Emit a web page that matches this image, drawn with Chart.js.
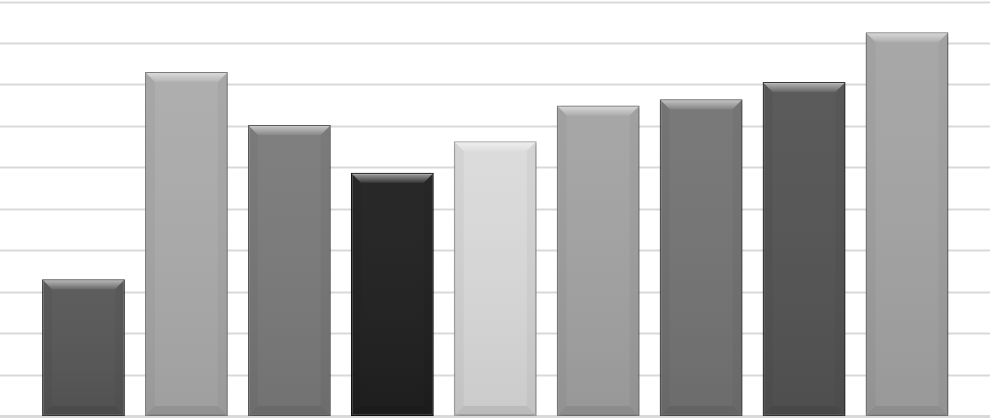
<!DOCTYPE html>
<html>
<head>
<meta charset="utf-8">
<script src="https://cdn.jsdelivr.net/npm/chart.js@4"></script>
<style>
  html, body { margin: 0; padding: 0; background: #fff; }
  #wrap { width: 990px; height: 420px; }
</style>
</head>
<body>
<div id="wrap"><canvas id="chart"></canvas></div>
<script>
const categories = ["1", "2", "3", "4", "5", "6", "7", "8", "9"];
const values = [3.3, 8.3, 7.02, 5.87, 6.63, 7.49, 7.64, 8.06, 9.26];
const barColors = ["#575757", "#ababab", "#7a7a7a", "#202020", "#dadada", "#a3a3a3", "#747474", "#545454", "#a4a4a4"];
const barEdge = ["#404040", "#888888", "#5e5e5e", "#141414", "#aaaaaa", "#828282", "#585858", "#3c3c3c", "#828282"];
const yTicks = [0, 1, 2, 3, 4, 5, 6, 7, 8, 9, 10];

// horizontal grid lines run the full canvas width
const fullGrid = {
  id: "fullGrid",
  beforeDatasetsDraw(chart) {
    const ctx = chart.ctx;
    const y = chart.scales.y;
    ctx.save();
    ctx.strokeStyle = "#d9d9d9";
    yTicks.forEach((t) => {
      const py = Math.round(y.getPixelForValue(t)) + 0.5;
      ctx.lineWidth = t === 0 ? 3 : 2;
      ctx.beginPath();
      ctx.moveTo(0, py);
      ctx.lineTo(chart.width, py);
      ctx.stroke();
    });
    ctx.restore();
  },
};

const bevel = {
  id: "bevel",
  beforeDatasetsDraw(chart) {
    const ctx = chart.ctx;
    ctx.save();
    ctx.shadowColor = "rgba(0,0,0,0.3)";
    ctx.shadowBlur = 5;
    ctx.shadowOffsetX = 1;
    ctx.shadowOffsetY = 1;
  },
  afterDatasetsDraw(chart) {
    const ctx = chart.ctx;
    ctx.restore();
    const meta = chart.getDatasetMeta(0);
    ctx.save();
    meta.data.forEach((bar) => {
      const l = bar.x - bar.width / 2 + 1;
      const r = bar.x + bar.width / 2 - 1;
      const t = bar.y + 1;
      const b = bar.base - 1;
      const d = 9;
      // vertical shading over the whole bar
      let g = ctx.createLinearGradient(0, t, 0, b);
      g.addColorStop(0, "rgba(255,255,255,0.04)");
      g.addColorStop(1, "rgba(0,0,0,0.07)");
      ctx.fillStyle = g;
      ctx.fillRect(l, t, r - l, b - t);
      // top bevel
      g = ctx.createLinearGradient(0, t, 0, t + d);
      g.addColorStop(0, "rgba(255,255,255,0.55)");
      g.addColorStop(1, "rgba(255,255,255,0.08)");
      ctx.fillStyle = g;
      ctx.beginPath();
      ctx.moveTo(l, t);
      ctx.lineTo(r, t);
      ctx.lineTo(r - d, t + d);
      ctx.lineTo(l + d, t + d);
      ctx.closePath();
      ctx.fill();
      // side bevels
      ctx.fillStyle = "rgba(0,0,0,0.035)";
      ctx.beginPath();
      ctx.moveTo(l, t);
      ctx.lineTo(l + d, t + d);
      ctx.lineTo(l + d, b - d);
      ctx.lineTo(l, b);
      ctx.closePath();
      ctx.fill();
      ctx.beginPath();
      ctx.moveTo(r, t);
      ctx.lineTo(r - d, t + d);
      ctx.lineTo(r - d, b - d);
      ctx.lineTo(r, b);
      ctx.closePath();
      ctx.fill();
      // bottom bevel
      ctx.fillStyle = "rgba(0,0,0,0.08)";
      ctx.beginPath();
      ctx.moveTo(l, b);
      ctx.lineTo(r, b);
      ctx.lineTo(r - d, b - d);
      ctx.lineTo(l + d, b - d);
      ctx.closePath();
      ctx.fill();
    });
    ctx.restore();
  },
};

new Chart(document.getElementById("chart"), {
  type: "bar",
  data: {
    labels: categories,
    datasets: [
      {
        data: values,
        backgroundColor: barColors,
        borderColor: barEdge,
        borderWidth: 1.5,
        borderSkipped: false,
        categoryPercentage: 1,
        barPercentage: 0.805,
      },
    ],
  },
  options: {
    responsive: true,
    maintainAspectRatio: false,
    animation: false,
    layout: { padding: { left: 32, right: 31.5, top: 1.5, bottom: 4 } },
    plugins: {
      legend: { display: false },
      tooltip: { enabled: false },
    },
    scales: {
      x: { display: false },
      y: {
        display: false,
        min: 0,
        max: 10,
        ticks: { stepSize: 1 },
      },
    },
  },
  plugins: [fullGrid, bevel],
});
</script>
</body>
</html>
